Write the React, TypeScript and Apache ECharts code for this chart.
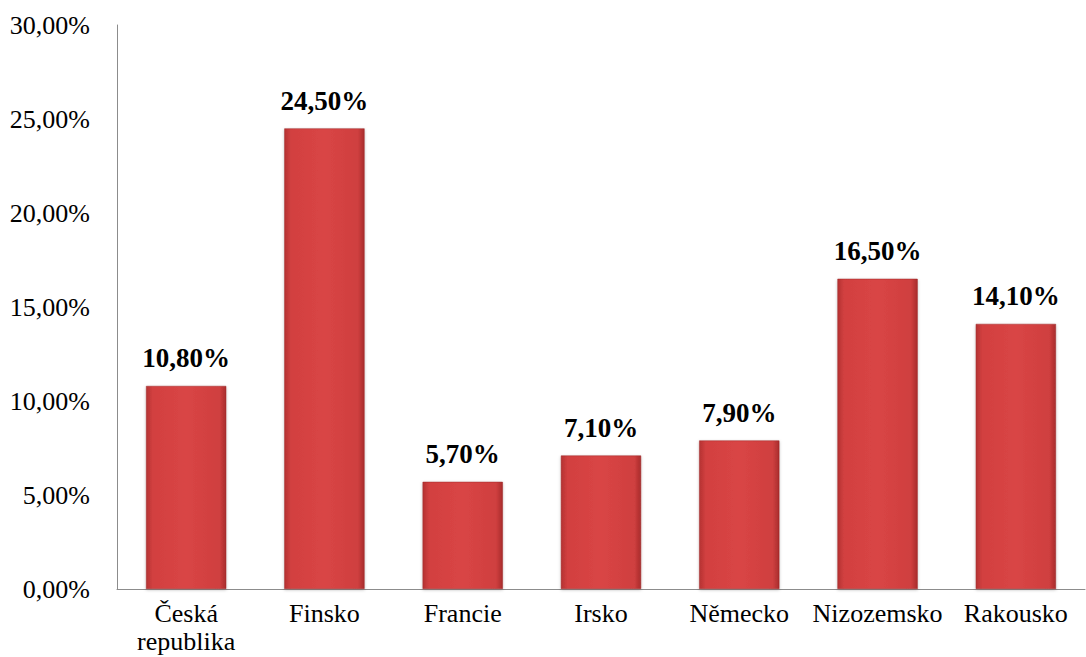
import React, { useEffect, useRef } from "react";
import * as echarts from "echarts";

const categories = ["Česká\nrepublika", "Finsko", "Francie", "Irsko", "Německo", "Nizozemsko", "Rakousko"];
const values = [10.8, 24.5, 5.7, 7.1, 7.9, 16.5, 14.1];

const FONT = "'Liberation Serif', 'Times New Roman', serif";
const fmt = (v: number) => v.toFixed(2).replace(".", ",") + "%";

export default function App() {
  const ref = useRef<HTMLDivElement>(null);
  useEffect(() => {
    if (!ref.current) return;
    const chart = echarts.init(ref.current, null, { renderer: "svg" });
    chart.setOption({
      animation: false,
      textStyle: { fontFamily: FONT },
      grid: { left: 117, right: 1, top: 25, bottom: 68 },
      xAxis: {
        type: "category",
        data: categories,
        axisLine: { lineStyle: { color: "#8c8c8c", width: 1 } },
        axisTick: { show: false },
        axisLabel: {
          color: "#000",
          fontFamily: FONT,
          fontSize: 26,
          lineHeight: 28,
          margin: 10,
          interval: 0,
        },
      },
      yAxis: {
        type: "value",
        min: 0,
        max: 30,
        interval: 5,
        splitLine: { show: false },
        axisLine: { show: true, lineStyle: { color: "#8c8c8c", width: 1 } },
        axisTick: { show: false },
        axisLabel: {
          color: "#000",
          fontFamily: FONT,
          fontSize: 26,
          margin: 27,
          formatter: (v: number) => fmt(v),
        },
      },
      series: [
        {
          type: "bar",
          data: values,
          barWidth: "58%",
          itemStyle: {
            color: new echarts.graphic.LinearGradient(0, 0, 1, 0, [
              { offset: 0, color: "#b53232" },
              { offset: 0.08, color: "#d24040" },
              { offset: 0.5, color: "#d94545" },
              { offset: 0.92, color: "#cf3f3f" },
              { offset: 1, color: "#a82c2c" },
            ]),
            borderColor: "#9e2a2a",
            borderWidth: 0.5,
            shadowColor: "rgba(0,0,0,0.25)",
            shadowBlur: 3,
            shadowOffsetY: 1,
          },
          label: {
            show: true,
            position: "top",
            distance: 14,
            color: "#000",
            fontFamily: FONT,
            fontWeight: "bold",
            fontSize: 27,
            formatter: (p: any) => fmt(p.value),
          },
        },
      ],
    });
    return () => chart.dispose();
  }, []);
  return <div ref={ref} style={{ width: 1086, height: 657, position: "absolute", left: 0, top: 0 }} />;
}
